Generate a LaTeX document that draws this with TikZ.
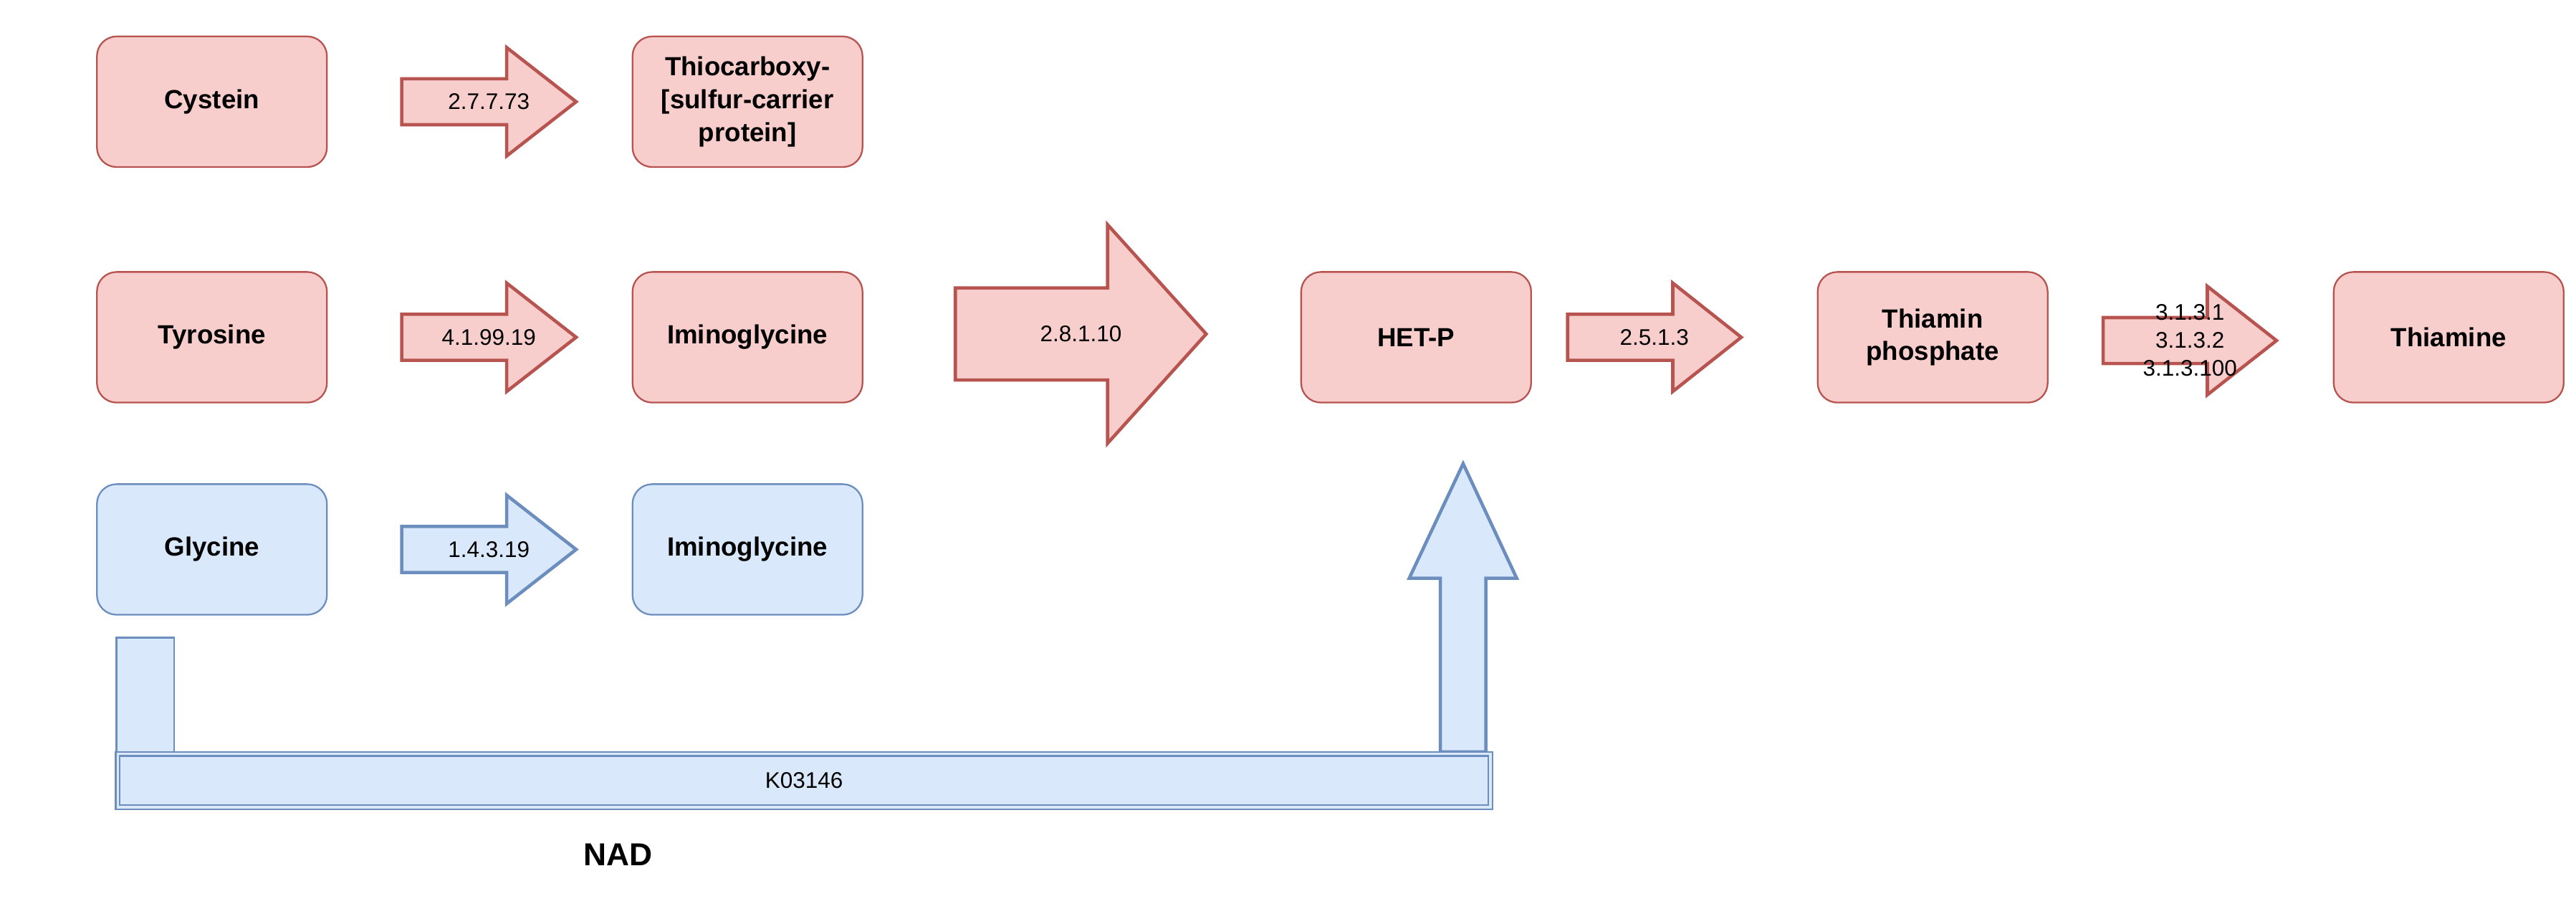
\documentclass[tikz,border=0pt]{standalone}
\usepackage{fontspec}
\setmainfont{Liberation Sans}

\definecolor{redfill}{HTML}{F8CECC}
\definecolor{redline}{HTML}{B85450}
\definecolor{bluefill}{HTML}{DAE8FC}
\definecolor{blueline}{HTML}{6C8EBF}

\tikzset{every picture/.style={line width=0.75pt}}
\tikzset{
  redbox/.style={draw=redline, fill=redfill, rounded corners=9pt, minimum width=105pt, minimum height=59.6pt, align=center, inner sep=0.75pt, font=\fontsize{12}{15}\selectfont\bfseries},
  bluebox/.style={redbox, draw=blueline, fill=bluefill},
  redarrow/.style={draw=redline, fill=redfill, line width=1.5pt},
  bluearrow/.style={draw=blueline, fill=bluefill, line width=1.5pt},
  ectext/.style={inner sep=0.75pt, align=center, font=\fontsize{10.3}{12.75}\selectfont}
}

\begin{document}
\begin{tikzpicture}[x=0.75pt,y=0.75pt,yscale=-1,xscale=1]
    \useasboundingbox (0,0) rectangle (1568,556.1);

    %Rounded Rect: metabolites
    \node[redbox] (cystein) at (129,61.9) {Cystein};
    \node[redbox] (thiocarboxy) at (455,61.9) {Thiocarboxy-\\{[}sulfur-carrier\\protein{]}};
    \node[redbox] (tyrosine) at (129,205.2) {Tyrosine};
    \node[redbox] (iminored) at (455,205.2) {Iminoglycine};
    \node[redbox] (hetp) at (862,205.2) {HET-P};
    \node[redbox] (thiaminp) at (1176.4,205.2) {Thiamin\\phosphate};
    \node[redbox] (thiamine) at (1490.5,205.2) {Thiamine};
    \node[bluebox] (glycine) at (129,334.3) {Glycine};
    \node[bluebox] (iminoblue) at (455,334.3) {Iminoglycine};

    %Shape: Right Arrow 2.7.7.73
    \draw[redarrow] (244.5,47.9) -- (308.4,47.9) -- (308.4,28.9) -- (350.7,61.9) -- (308.4,94.9) -- (308.4,75.9) -- (244.5,75.9) -- cycle ;
    %Shape: Right Arrow 4.1.99.19
    \draw[redarrow] (244.5,191.2) -- (308.4,191.2) -- (308.4,172.2) -- (350.7,205.2) -- (308.4,238.2) -- (308.4,219.2) -- (244.5,219.2) -- cycle ;
    %Shape: Right Arrow 1.4.3.19
    \draw[bluearrow] (244.5,320.3) -- (308.4,320.3) -- (308.4,301.3) -- (350.7,334.3) -- (308.4,367.3) -- (308.4,348.3) -- (244.5,348.3) -- cycle ;
    %Shape: Right Arrow 2.8.1.10
    \draw[redarrow] (581.5,175.2) -- (674.2,175.2) -- (674.2,136.7) -- (734.2,203.2) -- (674.2,269.7) -- (674.2,231.2) -- (581.5,231.2) -- cycle ;
    %Shape: Right Arrow 2.5.1.3
    \draw[redarrow] (954.2,191.2) -- (1018.2,191.2) -- (1018.2,172.2) -- (1059.9,205.2) -- (1018.2,238.2) -- (1018.2,219.2) -- (954.2,219.2) -- cycle ;
    %Shape: Right Arrow 3.1.3.x
    \draw[redarrow] (1280.2,193.2) -- (1343.6,193.2) -- (1343.6,174.2) -- (1385.7,207.2) -- (1343.6,240.2) -- (1343.6,221.2) -- (1280.2,221.2) -- cycle ;

    %Shape: Rectangle, left leg
    \draw[draw=blueline, fill=bluefill, line width=0.9pt] (71,387.8) rectangle (106,457.5) ;
    %Shape: Up Arrow into HET-P
    \draw[bluearrow] (876.7,457.5) -- (876.7,351.8) -- (857.8,351.8) -- (890.6,282.1) -- (923.2,351.8) -- (904.4,351.8) -- (904.4,457.5) -- cycle ;
    %Shape: Double Rectangle K03146
    \node[draw=blueline, fill=bluefill, double=bluefill, double distance=1.05pt, minimum width=626.7pt, minimum height=24.3pt, inner sep=0.75pt, font=\fontsize{10.3}{12}\selectfont] (k03146) at (489.4,474.9) {K03146};

    % Text Node
    \node[ectext] (ec27773) at (297.6,61.9) {2.7.7.73};
    % Text Node
    \node[ectext] (ec419919) at (297.6,205.2) {4.1.99.19};
    % Text Node
    \node[ectext] (ec14319) at (297.6,334.3) {1.4.3.19};
    % Text Node
    \node[ectext] (ec28110) at (657.9,203.2) {2.8.1.10};
    % Text Node
    \node[ectext] (ec2513) at (1007,205.2) {2.5.1.3};
    % Text Node
    \node[ectext] (ec313) at (1333,207.2) {3.1.3.1\\3.1.3.2\\3.1.3.100};
    % Text Node
    \node[inner sep=0.75pt, font=\fontsize{14.5}{17}\selectfont\bfseries] (nad) at (376,520) {NAD};

\end{tikzpicture}
\end{document}
